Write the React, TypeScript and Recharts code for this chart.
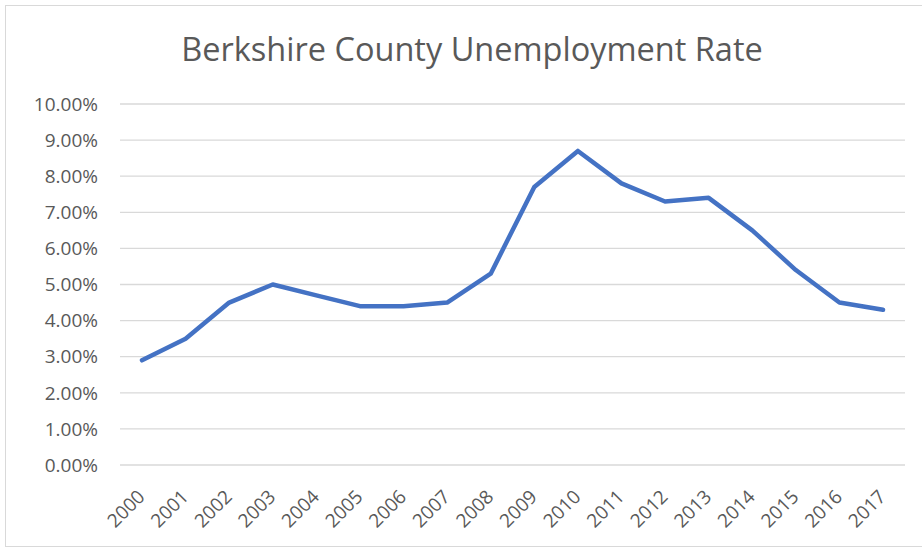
import { LineChart, Line, XAxis, YAxis, CartesianGrid } from 'recharts'

const years = [
  '2000', '2001', '2002', '2003', '2004', '2005', '2006', '2007', '2008',
  '2009', '2010', '2011', '2012', '2013', '2014', '2015', '2016', '2017',
]
const unemploymentRate = [
  2.9, 3.5, 4.5, 5.0, 4.7, 4.4, 4.4, 4.5, 5.3,
  7.7, 8.7, 7.8, 7.3, 7.4, 6.5, 5.4, 4.5, 4.3,
]
const yTicks = [0, 1, 2, 3, 4, 5, 6, 7, 8, 9, 10]

const data = years.map((year, i) => ({ year, rate: unemploymentRate[i] }))

const FONT = '"Open Sans", "Noto Sans", sans-serif'
const TEXT = '#595959'

const YearTick = ({ x, y, payload }: any) => (
  <text
    x={0}
    y={0}
    transform={`translate(${x + 4}, ${y + 25}) rotate(-45)`}
    textAnchor="end"
    fill={TEXT}
    fontSize={19}
    fontFamily={FONT}
  >
    {payload.value}
  </text>
)

export default function App() {
  return (
    <div style={{ position: 'absolute', left: 0, top: 0, width: 922, height: 550, background: '#fff' }}>
      <div
        style={{
          position: 'absolute',
          left: 5,
          top: 5,
          width: 930,
          height: 540,
          border: '1px solid #d9d9d9',
        }}
      />
      <div
        style={{
          position: 'absolute',
          left: 0,
          width: 944,
          top: 26,
          textAlign: 'center',
          fontFamily: FONT,
          fontSize: 32.5,
          color: TEXT,
          whiteSpace: 'nowrap',
        }}
      >
        Berkshire County Unemployment Rate
      </div>
      <div style={{ position: 'absolute', left: 0, top: 0 }}>
        <LineChart width={922} height={550} data={data} margin={{ top: 104, right: 17, left: 40, bottom: 15 }}>
          <CartesianGrid vertical={false} stroke="#d9d9d9" strokeWidth={1.3} />
          <XAxis
            dataKey="year"
            axisLine={false}
            tickLine={false}
            interval={0}
            height={70}
            padding={{ left: 22, right: 22 }}
            tick={<YearTick />}
          />
          <YAxis
            domain={[0, 10]}
            ticks={yTicks}
            width={80}
            axisLine={false}
            tickLine={false}
            tickSize={0}
            tickMargin={22}
            tickFormatter={(v: number) => v.toFixed(2) + '%'}
            tick={{ fill: TEXT, fontSize: 19, fontFamily: FONT }}
          />
          <Line
            type="linear"
            dataKey="rate"
            stroke="#4472c4"
            strokeWidth={4.5}
            strokeLinecap="round"
            strokeLinejoin="round"
            dot={false}
            isAnimationActive={false}
          />
        </LineChart>
      </div>
    </div>
  )
}
